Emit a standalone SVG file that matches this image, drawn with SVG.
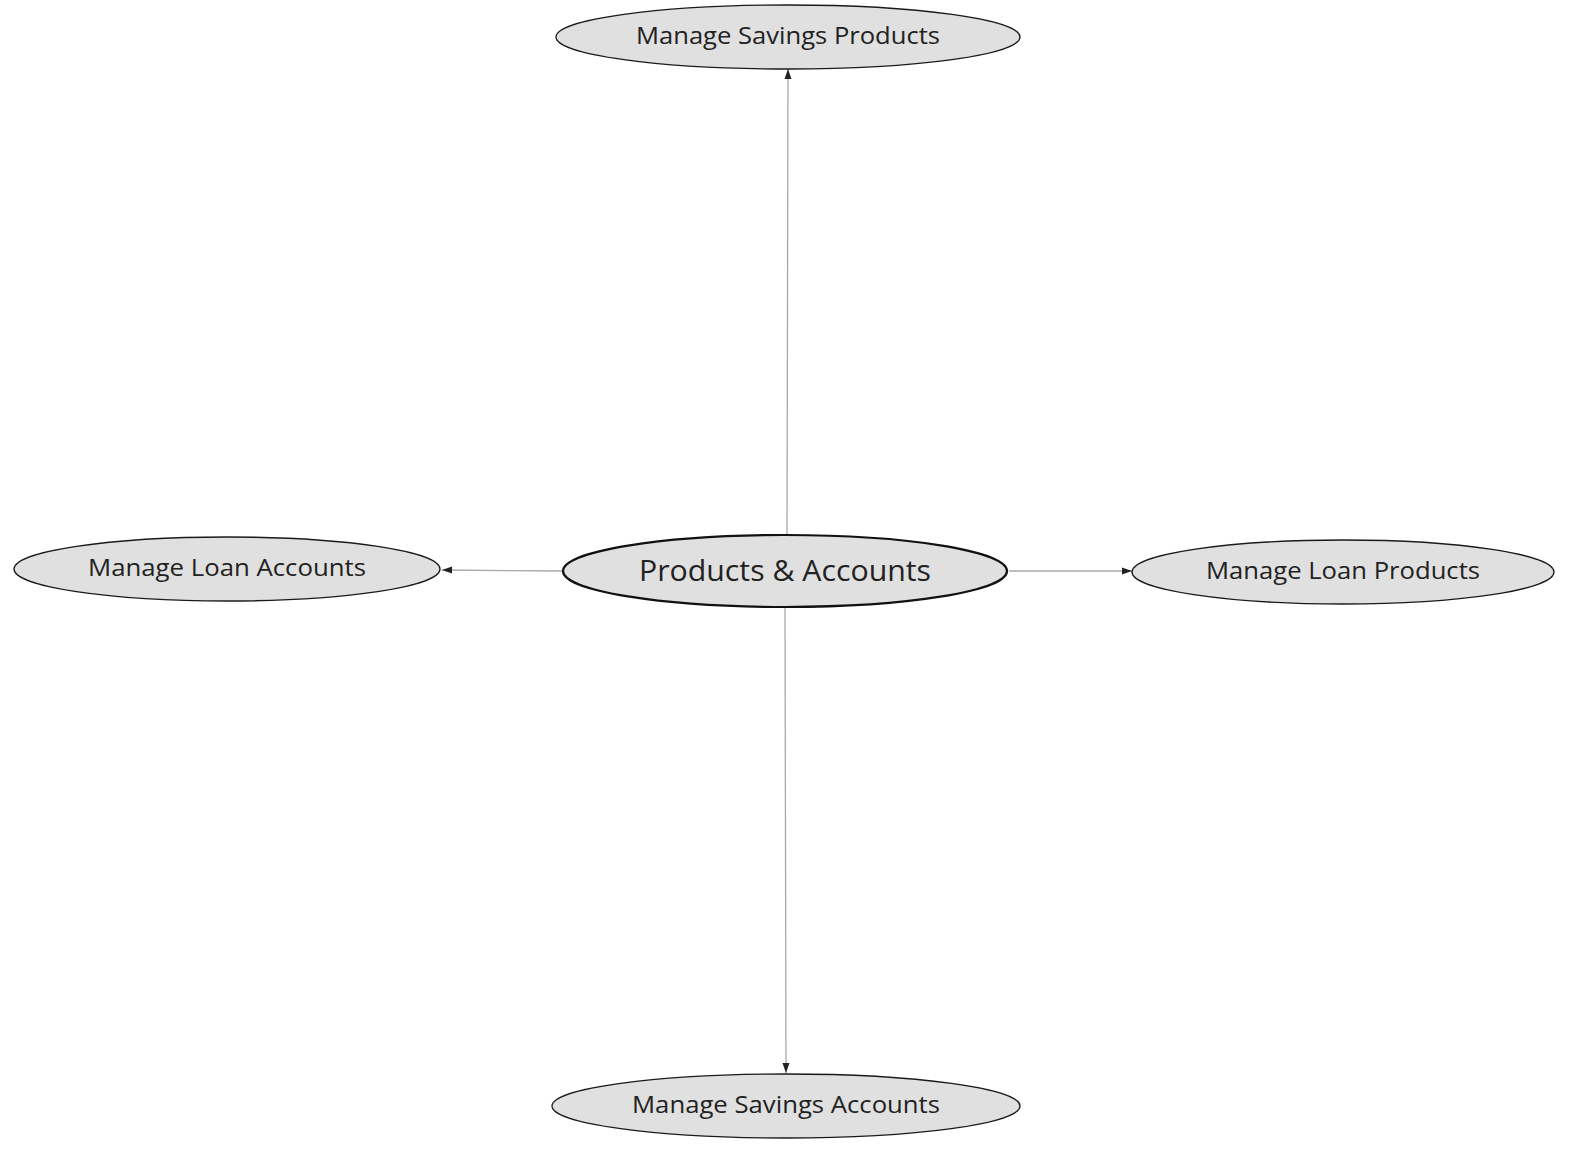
<svg xmlns="http://www.w3.org/2000/svg" width="1581" height="1152" viewBox="0 0 1581 1152">
<defs>
<style>
.node{fill:#e0e0e0;stroke:#1a1a1a;stroke-width:1.3}
.main{fill:#e0e0e0;stroke:#111;stroke-width:2.2}
.lbl{font-family:"Open Sans","Liberation Sans",sans-serif;font-size:23px;fill:#222;text-anchor:middle}
.big{font-size:29px}
.edge{stroke:#a8a8a8;stroke-width:1.3;fill:none}
</style>
<marker id="arr" viewBox="0 0 10 10" refX="10" refY="5" markerWidth="10" markerHeight="10" markerUnits="userSpaceOnUse" orient="auto">
<path d="M0,1.5 L10,5 L0,8.5 Z" fill="#222"/>
</marker>
</defs>
<rect width="1581" height="1152" fill="#fff"/>
<g id="connectors">
<path class="edge" d="M787,535 L788,69" marker-end="url(#arr)"/>
<path class="edge" d="M562,571 L442,570" marker-end="url(#arr)"/>
<path class="edge" d="M1009,571 L1132,571" marker-end="url(#arr)"/>
<path class="edge" d="M785,608 L786,1073" marker-end="url(#arr)"/>
</g>
<g id="top">
<ellipse class="node" cx="788" cy="37" rx="232" ry="32"/>
<text class="lbl" x="788" y="44" textLength="304" lengthAdjust="spacingAndGlyphs">Manage Savings Products</text>
</g>
<g id="center">
<ellipse class="main" cx="785" cy="571" rx="222" ry="36"/>
<text class="lbl big" x="785" y="581" textLength="292" lengthAdjust="spacingAndGlyphs">Products &amp; Accounts</text>
</g>
<g id="left">
<ellipse class="node" cx="227" cy="569" rx="213" ry="32"/>
<text class="lbl" x="227" y="576" textLength="278" lengthAdjust="spacingAndGlyphs">Manage Loan Accounts</text>
</g>
<g id="right">
<ellipse class="node" cx="1343" cy="572" rx="211" ry="32"/>
<text class="lbl" x="1343" y="579" textLength="274" lengthAdjust="spacingAndGlyphs">Manage Loan Products</text>
</g>
<g id="bottom">
<ellipse class="node" cx="786" cy="1106" rx="234" ry="32"/>
<text class="lbl" x="786" y="1113" textLength="308" lengthAdjust="spacingAndGlyphs">Manage Savings Accounts</text>
</g>
</svg>
